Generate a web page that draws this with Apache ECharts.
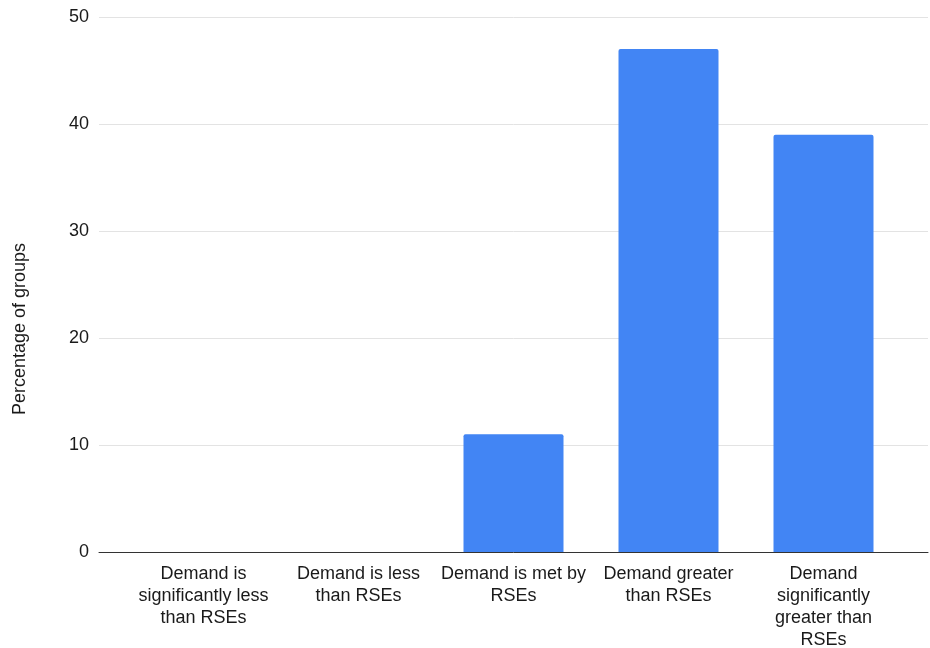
<!DOCTYPE html>
<html>
<head>
<meta charset="utf-8">
<script src="https://cdn.jsdelivr.net/npm/echarts@6/dist/echarts.min.js"></script>
<style>
html,body{margin:0;padding:0;background:#fff;}
#chart{width:930px;height:648px;}
</style>
</head>
<body>
<div id="chart"></div>
<script>
var categories = [
  'Demand is\nsignificantly less\nthan RSEs',
  'Demand is less\nthan RSEs',
  'Demand is met by\nRSEs',
  'Demand greater\nthan RSEs',
  'Demand\nsignificantly\ngreater than\nRSEs'
];
var values = [0, 0, 11, 47, 39];
var yTicks = [0, 10, 20, 30, 40, 50];
var yTitle = 'Percentage of groups';

var font = '"Liberation Sans", Arial, sans-serif';
var chart = echarts.init(document.getElementById('chart'), null, {renderer: 'canvas'});
chart.setOption({
  animation: false,
  backgroundColor: '#ffffff',
  grid: [
    {left: 99, right: 2, top: 17, bottom: 96, containLabel: false, outerBoundsMode: 'none'},
    {left: 126, right: 29, top: 17, bottom: 96, containLabel: false, outerBoundsMode: 'none'}
  ],
  xAxis: [
    {
      gridIndex: 0, type: 'value', min: 0, max: 1,
      axisLine: {show: true, onZero: false, lineStyle: {color: '#333333', width: 1}},
      axisTick: {show: false}, axisLabel: {show: false}, splitLine: {show: false}
    },
    {
      gridIndex: 1, type: 'category', data: categories,
      axisLine: {show: false}, axisTick: {show: false},
      axisLabel: {
        interval: 0, margin: 11, color: '#1a1a1a', fontFamily: font,
        fontSize: 18, lineHeight: 22, align: 'center'
      }
    }
  ],
  yAxis: [
    {
      gridIndex: 0, type: 'value', min: yTicks[0], max: yTicks[yTicks.length - 1], interval: 10,
      axisLine: {show: false}, axisTick: {show: false},
      axisLabel: {margin: 10, color: '#1a1a1a', fontFamily: font, fontSize: 18},
      splitLine: {show: true, lineStyle: {color: '#e3e3e3', width: 1}}
    },
    {
      gridIndex: 1, type: 'value', min: yTicks[0], max: yTicks[yTicks.length - 1], interval: 10,
      show: false, splitLine: {show: false}
    }
  ],
  graphic: [
    {
      type: 'text', rotation: Math.PI / 2,
      x: 20, y: 329,
      style: {
        text: yTitle, fill: '#1a1a1a', font: '18px ' + font,
        textAlign: 'center', textVerticalAlign: 'middle'
      }
    }
  ],
  series: [
    {
      type: 'bar', xAxisIndex: 1, yAxisIndex: 1, data: values,
      barWidth: 100, z: 1,
      itemStyle: {color: '#4285f4', borderRadius: [2, 2, 0, 0]}
    }
  ]
});
</script>
</body>
</html>
